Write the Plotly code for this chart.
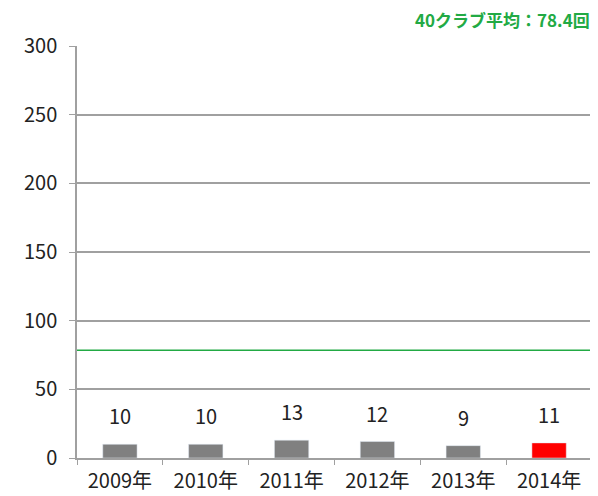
import plotly.graph_objects as go

years = ["2009年", "2010年", "2011年", "2012年", "2013年", "2014年"]
values = [10, 10, 13, 12, 9, 11]
colors = ["#808080", "#808080", "#808080", "#808080", "#808080", "#ff0000"]
avg_value = 78.4
avg_label = "40クラブ平均：78.4回"
y_ticks = [0, 50, 100, 150, 200, 250, 300]

font_family = "Noto Sans CJK JP"
grid_col = "#a0a0a0"

fig = go.Figure()
fig.add_trace(go.Bar(
    x=years, y=values, marker_color=colors, width=0.4, hoverinfo="skip",
))
fig.add_trace(go.Scatter(
    x=[-0.5, 5.5], y=[avg_value, avg_value], mode="lines",
    line=dict(color="#22aa44", width=1.5), xaxis="x2", hoverinfo="skip",
))

annotations = [
    dict(x=yr, y=v, text=str(v), xref="x", yref="y", showarrow=False,
         yanchor="bottom", yshift=12, font=dict(size=20, color="#222222", family=font_family))
    for yr, v in zip(years, values)
]
annotations.append(dict(
    text="<b>" + avg_label + "</b>", xref="paper", yref="paper", x=1.0, y=1.0,
    xanchor="right", yanchor="bottom", yshift=12, showarrow=False,
    font=dict(size=17, color="#22aa44", family=font_family),
))

fig.update_layout(
    width=590, height=488,
    margin=dict(l=69, r=6, t=38, b=38),
    plot_bgcolor="white", paper_bgcolor="white",
    showlegend=False,
    font=dict(family=font_family, size=20, color="#222222"),
    xaxis=dict(
        type="category", showgrid=False, showline=True, linecolor=grid_col, linewidth=1.5,
        ticks="outside", ticklen=5, tickcolor=grid_col, tickson="boundaries",
        tickfont=dict(size=20), range=[-0.5, 5.5], ticklabelstandoff=4, automargin=False,
    ),
    xaxis2=dict(overlaying="x", range=[-0.5, 5.5], visible=False),
    yaxis=dict(
        range=[0, 300], tickvals=y_ticks, showgrid=True, gridcolor=grid_col, gridwidth=1.5,
        showline=True, linecolor=grid_col, linewidth=1.5, ticks="outside", ticklen=6,
        tickcolor=grid_col, tickfont=dict(size=20), zeroline=False, ticklabelstandoff=8,
        automargin=False,
    ),
    annotations=annotations,
)
fig.write_html("out.html")
